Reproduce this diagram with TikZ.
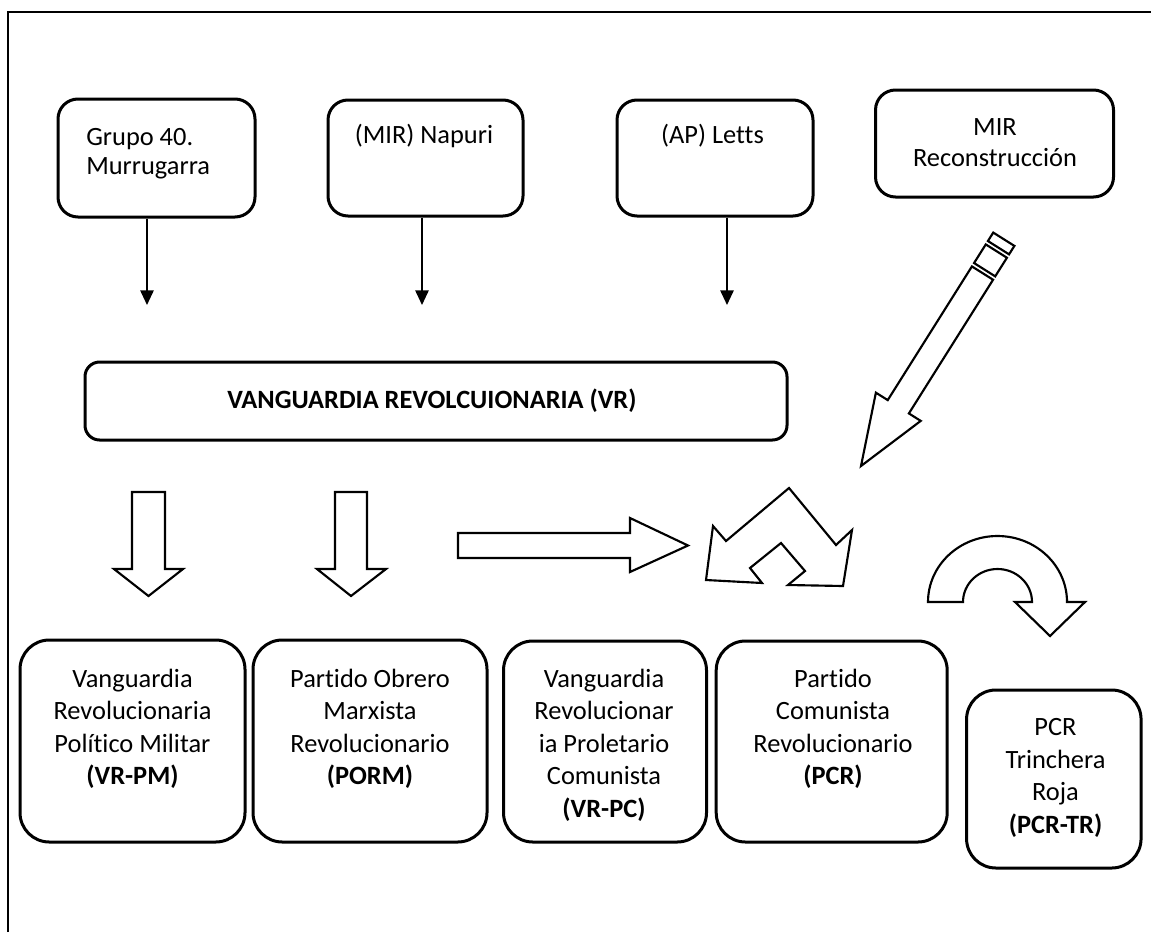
\documentclass[tikz,border=0pt]{standalone}
\usepackage{fontspec}
\setmainfont{Carlito}[Ligatures=NoCommon]
\usetikzlibrary{arrows.meta,calc}
\begin{document}
\begin{tikzpicture}[x=0.75pt,y=-0.75pt,
  sz/.style 2 args={minimum width=#1*0.75pt, minimum height=#2*0.75pt},
  topbox/.style={draw, line width=2.25pt, rounded corners=15pt, inner sep=0pt, fill=white},
  vrbox/.style={draw, line width=2.25pt, rounded corners=11pt, inner sep=0pt, fill=white},
  botbox/.style={draw, line width=2.25pt, rounded corners=22pt, inner sep=0pt, fill=white},
  toptext/.style={inner sep=0pt, font=\fontsize{19.8}{21.75}\selectfont},
  bottext/.style={inner sep=0pt, align=center, font=\fontsize{19.8}{24.4}\selectfont},
  thinarrow/.style={line width=1.3pt, -{Triangle[length=11pt,width=10pt]}},
  blockarrow/.style={draw, line width=1.6pt, fill=white, line join=miter}]

% frame
\draw[line width=1.5pt] (8,932) -- (8,12) -- (1151,12);

% top boxes
\node[topbox, sz={197}{118}] (g40) at (156.5,158) {};
\node[toptext, anchor=west, align=left] (g40t) at (86,154) {Grupo 40.\\Murrugarra};
\node[topbox, sz={195}{116}] (mir) at (425.5,158) {};
\node[toptext] (mirt) at (424,136) {(MIR) Napuri};
\node[topbox, sz={196}{116}] (ap) at (715,158) {};
\node[toptext] (apt) at (712.5,136) {(AP) Letts};
\node[topbox, sz={238}{107}] (mirr) at (994.5,143.5) {};
\node[toptext, align=center, font=\fontsize{19.8}{23.25}\selectfont] (mirrt) at (995,143) {MIR\\Reconstrucción};

% thin arrows
\coordinate (a1) at (147,305);
\coordinate (a2) at (422,305);
\coordinate (a3) at (727,305);
\draw[thinarrow] (g40.south -| a1) -- (a1);
\draw[thinarrow] (mir.south -| a2) -- (a2);
\draw[thinarrow] (ap.south -| a3) -- (a3);

% VR box
\node[vrbox, sz={702}{78}] (vr) at (436,401) {};
\node[toptext, anchor=west, font=\fontsize{19.8}{21.75}\selectfont\bfseries] (vrt) at (227,401) {VANGUARDIA REVOLCUIONARIA (VR)};

% pencil (striped) arrow
\begin{scope}[shift={(861,466)}, rotate=57.8]
  \draw[blockarrow] (0,0) -- (70,-26.5) -- (70,-12.5) -- (228,-12.5) -- (228,12.5) -- (70,12.5) -- (70,26.5) -- cycle;
  \draw[blockarrow] (232,-12.5) rectangle (254,12.5);
  \draw[blockarrow] (258,-12.5) rectangle (268,12.5);
\end{scope}

% down block arrows
\draw[blockarrow] (132,492) -- (165,492) -- (165,569) -- (183,569) -- (148.5,596) -- (114,569) -- (132,569) -- cycle;
\draw[blockarrow] (335,492) -- (367,492) -- (367,569) -- (386,569) -- (351,596) -- (317,569) -- (335,569) -- cycle;

% right block arrow
\draw[blockarrow] (458,533) -- (630,533) -- (630,518) -- (688,545.5) -- (630,572) -- (630,558) -- (458,558) -- cycle;

% bent double arrow
\draw[blockarrow] (789,488) -- (836,545) -- (852,530) -- (843,586) -- (788,585) -- (805,571) -- (781,543) -- (750,568) -- (762,583) -- (706,580) -- (713,526) -- (726,541) -- cycle;

% u-turn arrow
\draw[blockarrow] (928,602) arc[start angle=180, end angle=360, x radius=69.5, y radius=66]
  -- (1085,602) -- (1050,636) -- (1015,602) -- (1032,602)
  arc[start angle=0, end angle=-180, x radius=34.5, y radius=33] -- cycle;

% bottom boxes
\node[botbox, sz={225}{202}] (vrpm) at (132.5,741) {};
\node[bottext] (vrpmt) at (132.5,729) {Vanguardia\\Revolucionaria\\Político Militar\\\textbf{(VR-PM)}};
\node[botbox, sz={234}{202}] (porm) at (370,741) {};
\node[bottext] (pormt) at (370,729) {Partido Obrero\\Marxista\\Revolucionario\\\textbf{(PORM)}};
\node[botbox, sz={203}{201}] (vrpc) at (605,741.5) {};
\node[bottext] (vrpct) at (604,745) {Vanguardia\\Revolucionar\\ia Proletario\\Comunista\\\textbf{(VR-PC)}};
\node[botbox, sz={231}{201}] (pcr) at (831.7,741.5) {};
\node[bottext] (pcrt) at (833,729) {Partido\\Comunista\\Revolucionario\\\textbf{(PCR)}};
\node[botbox, sz={174.5}{178}] (pcrtr) at (1053.8,779) {};
\node[bottext] (pcrtrt) at (1055.5,778) {PCR\\Trinchera\\Roja\\\textbf{(PCR-TR)}};

\pgfresetboundingbox
\useasboundingbox (0,0) rectangle (1151,932);
\end{tikzpicture}
\end{document}
